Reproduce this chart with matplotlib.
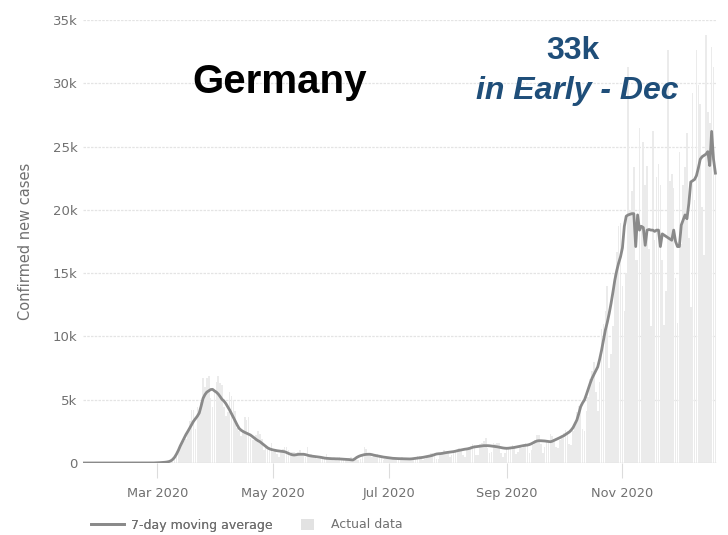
import matplotlib

matplotlib.use("Agg")

import matplotlib.dates as mdates
import matplotlib.pyplot as plt
import pandas as pd
from matplotlib.lines import Line2D
from matplotlib.patches import Patch

# daily confirmed new cases, Germany, 2020-01-22 .. 2020-12-20
daily_jan = [0, 0, 0, 0, 0, 1, 3, 0, 0, 1]
daily_feb = [1, 0, 2, 2, 0, 0, 1, 0, 0, 0, 2, 0, 0, 0, 0, 0, 0, 0, 0, 0,
             0, 0, 0, 0, 1, 10, 19, 2, 31]
daily_mar = [20, 30, 40, 60, 90, 120, 150, 250, 200, 300, 600, 900, 1400, 1600, 1700, 1900,
             2500, 3300, 4200, 4200, 2700, 4400, 4000, 4800, 6700, 6000, 6700, 6900, 5100, 4400, 5700]
daily_apr = [6400, 6900, 6300, 6200, 4400, 3700, 4000, 5600, 5300, 5000, 4100, 2800, 2500, 2100, 2500,
             3600, 3400, 3600, 2000, 1800, 1800, 2200, 2500, 2300, 1900, 1000, 1300, 1100, 1300, 1600]
daily_may = [900, 1000, 700, 500, 900, 1100, 1300, 1300, 1000, 600, 900, 900, 800, 900, 1000, 600,
             600, 500, 1250, 600, 700, 500, 400, 300, 300, 400, 500, 350, 700, 350, 300]
daily_jun = [200, 300, 400, 400, 500, 350, 300, 200, 300, 400, 450, 300, 200, 250, 200, 350,
             600, 1250, 1100, 750, 600, 500, 600, 600, 700, 500, 500, 250, 300, 500]
daily_jul = [450, 500, 400, 350, 250, 300, 400, 450, 400, 400, 350, 250, 200, 400, 350, 550,
             550, 400, 250, 300, 500, 550, 800, 800, 800, 300, 300, 600, 900, 1000, 900]
daily_aug = [950, 500, 600, 900, 1000, 1100, 1150, 1050, 650, 500, 1200, 1250, 1350, 1500, 1400, 650,
             650, 1500, 1600, 1700, 2000, 1200, 800, 900, 1600, 1500, 1600, 1600, 800, 500, 800]
daily_sep = [1200, 1300, 1300, 1400, 1300, 700, 900, 1400, 1200, 1400, 1600, 1400, 800, 1000, 1400,
             1800, 2200, 2200, 1500, 800, 1300, 1800, 1700, 2300, 2100, 1700, 1300, 1200, 1800, 2000]
daily_oct = [2400, 2600, 2500, 1500, 1400, 2500, 3000, 4000, 4500, 4700, 2700, 2500, 4100, 5200, 6600,
             7300, 8000, 5600, 4100, 6400, 10600, 11000, 12000, 14000, 7500, 8600, 10800, 15000, 16700,
             18700, 19000]
daily_nov = [14000, 12000, 15000, 31300, 20000, 21500, 23400, 16000, 16000, 26500, 18500, 25400, 22000,
             23500, 16900, 10800, 26200, 17600, 22600, 23600, 22000, 16000, 10900, 13600, 32600, 22300,
             22800, 21700, 14600, 11100]
daily_dec = [24600, 17300, 22000, 23400, 26100, 17800, 12300, 29200, 20800, 32600, 29900, 28400, 20200,
             16400, 33800, 27700, 26900, 32900, 31300, 22800]

# 7-day moving average as shown by the line
avg_jan = [0, 0, 0, 0, 0, 0, 0, 0, 0, 0]
avg_feb = [1, 1, 1, 1, 1, 1, 1, 1, 1, 1, 1, 1, 1, 1, 1, 1, 1, 1, 1, 1,
           1, 1, 1, 1, 1, 2, 5, 5, 9]
avg_mar = [20, 25, 35, 45, 60, 80, 110, 170, 280, 450, 700, 1000, 1350, 1650, 1950, 2250, 2500, 2770,
           3050, 3300, 3500, 3700, 3950, 4500, 5100, 5400, 5600, 5700, 5800, 5820, 5700]
avg_apr = [5600, 5450, 5250, 5030, 4900, 4700, 4450, 4190, 3900, 3600, 3300, 3000, 2740, 2600, 2500,
           2420, 2350, 2280, 2210, 2100, 1980, 1860, 1760, 1680, 1560, 1440, 1320, 1200, 1120, 1070]
avg_may = [1030, 1000, 970, 950, 930, 910, 890, 830, 760, 700, 650, 630, 650, 680, 690, 690, 690, 660,
           620, 580, 550, 530, 510, 490, 470, 450, 420, 390, 370, 360, 350]
avg_jun = [340, 340, 330, 330, 320, 310, 300, 290, 280, 270, 250, 240, 330, 440, 520, 580, 620, 660,
           680, 690, 690, 660, 620, 590, 560, 530, 500, 470, 450, 430]
avg_jul = [410, 390, 370, 360, 350, 345, 340, 335, 330, 325, 320, 320, 330, 350, 370, 390, 410, 430,
           450, 480, 510, 540, 570, 610, 660, 710, 730, 740, 760, 790, 820]
avg_aug = [840, 860, 880, 900, 930, 970, 1000, 1030, 1060, 1090, 1110, 1140, 1180, 1240, 1270, 1290,
           1310, 1330, 1350, 1370, 1370, 1370, 1360, 1340, 1320, 1300, 1280, 1250, 1220, 1190, 1170]
avg_sep = [1160, 1170, 1190, 1210, 1230, 1260, 1290, 1320, 1350, 1380, 1400, 1420, 1460, 1520, 1600,
           1680, 1740, 1760, 1760, 1750, 1740, 1720, 1700, 1680, 1720, 1790, 1860, 1930, 2000, 2080]
avg_oct = [2150, 2250, 2350, 2450, 2600, 2800, 3100, 3400, 3900, 4450, 4750, 4980, 5400, 5850, 6300,
           6700, 7000, 7300, 7600, 8200, 8900, 9700, 10500, 11100, 11800, 12600, 13500, 14460, 15200,
           15800, 16300]
avg_nov = [17000, 18700, 19500, 19600, 19650, 19700, 19700, 17100, 19600, 18400, 18700, 18600, 17200,
           18400, 18450, 18400, 18400, 18300, 18400, 18400, 17100, 18100, 18000, 17900, 17800, 17700,
           17600, 18400, 17500, 17100]
avg_dec = [17100, 18800, 19200, 19600, 19300, 20500, 22200, 22300, 22400, 22700, 23300, 24000, 24200,
           24300, 24400, 24600, 23500, 26200, 24000, 22900]

daily = (daily_jan + daily_feb + daily_mar + daily_apr + daily_may + daily_jun + daily_jul
         + daily_aug + daily_sep + daily_oct + daily_nov + daily_dec)
avg = (avg_jan + avg_feb + avg_mar + avg_apr + avg_may + avg_jun + avg_jul
       + avg_aug + avg_sep + avg_oct + avg_nov + avg_dec)
dates = pd.date_range("2020-01-22", periods=len(daily), freq="D")

tick_dates = ["2020-03-01", "2020-05-01", "2020-07-01", "2020-09-01", "2020-11-01"]
y_ticks = [0, 5000, 10000, 15000, 20000, 25000, 30000, 35000]
y_labels = ["0", "5k", "10k", "15k", "20k", "25k", "30k", "35k"]

label_gray = "#707070"
line_gray = "#8a8a8a"
bar_gray = "#ebebeb"

fig = plt.figure(figsize=(7.28, 5.35), dpi=100)
ax = fig.add_axes([83 / 728, 72 / 535, 634 / 728, 443 / 535])

ax.bar(dates, daily, width=0.85, color=bar_gray, zorder=1)
ax.plot(dates, avg, color=line_gray, lw=2.0, zorder=3)

ax.set_ylim(0, 35000)
ax.set_xlim(dates[0] - pd.Timedelta(hours=6), dates[-1] + pd.Timedelta(hours=20))
ax.set_yticks(y_ticks)
ax.set_yticklabels(y_labels)
ax.set_xticks(pd.to_datetime(tick_dates))
ax.xaxis.set_major_formatter(mdates.DateFormatter("%b %Y"))

ax.grid(axis="y", color="#e4e4e4", lw=0.9, ls=(0, (2, 1)), zorder=0)
ax.set_axisbelow(True)
for side in ("top", "right", "left", "bottom"):
    ax.spines[side].set_visible(False)
ax.axhline(0, color="#d4d4d4", lw=0.9, zorder=2)

ax.tick_params(axis="y", length=0, pad=4, labelsize=9.5, labelcolor=label_gray)
ax.tick_params(axis="x", length=11, width=0.8, color="#dcdcdc", pad=6, labelsize=9.3,
               labelcolor=label_gray)
ax.set_ylabel("Confirmed new cases", color=label_gray, fontsize=10.5, labelpad=14)

fig.text(280 / 728, 1 - 82 / 535, "Germany", fontsize=29, fontweight="bold",
         family="Liberation Sans", color="black", ha="center", va="center")
fig.text(573 / 728, 1 - 51 / 535, "33k", fontsize=23, fontweight="bold",
         family="Liberation Sans", color="#1f4e79", ha="center", va="center")
fig.text(577 / 728, 1 - 91 / 535, "in Early - Dec", fontsize=23, fontweight="bold",
         style="italic", family="Liberation Sans", color="#1f4e79", ha="center", va="center")

line_leg = fig.legend([Line2D([0], [0], color=line_gray, lw=2.0)], ["7-day moving average"],
                      loc="center left", bbox_to_anchor=(80 / 728, 1 - 525 / 535), frameon=False,
                      fontsize=9, labelcolor=label_gray, handlelength=2.6, handletextpad=0.6)
fig.add_artist(line_leg)
fig.legend([Patch(facecolor="#e2e2e2", edgecolor="none")], ["Actual data"],
           loc="center left", bbox_to_anchor=(290 / 728, 1 - 525 / 535), frameon=False,
           fontsize=9, labelcolor=label_gray, handlelength=1.0, handleheight=1.0,
           handletextpad=1.4)

fig.savefig("out.png", dpi=100)
